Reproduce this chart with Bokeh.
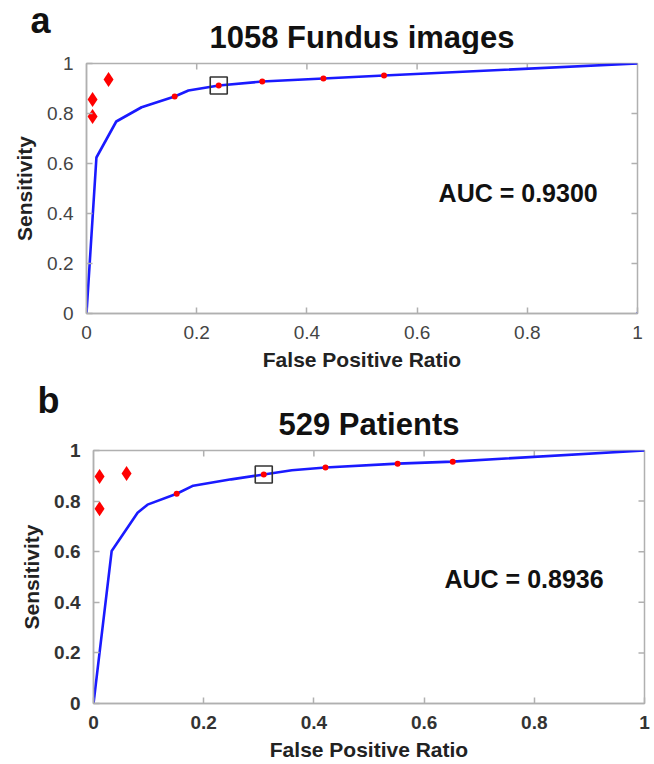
from bokeh.plotting import figure
from bokeh.models import Label, Range1d, FixedTicker
from bokeh.layouts import column
from bokeh.embed import file_html
from bokeh.resources import INLINE

FONT = "Liberation Sans"

# ---- Panel a: 1058 Fundus images ----
a_title = "1058 Fundus images"
a_curve_fpr = [0, 0.018, 0.054, 0.10, 0.16, 0.185, 0.24, 0.319, 0.43, 0.54, 1.0]
a_curve_sens = [0, 0.624, 0.768, 0.825, 0.868, 0.892, 0.912, 0.928, 0.94, 0.952, 1.0]
a_dot_fpr = [0.16, 0.24, 0.319, 0.43, 0.54]
a_dot_sens = [0.868, 0.912, 0.928, 0.94, 0.952]
a_diam_fpr = [0.011, 0.011, 0.04]
a_diam_sens = [0.856, 0.788, 0.936]
a_box_fpr = [0.24]
a_box_sens = [0.912]
a_end_fpr = [1.0]
a_end_sens = [0.0]
a_auc = "AUC = 0.9300"

# ---- Panel b: 529 Patients ----
b_title = "529 Patients"
b_curve_fpr = [0, 0.033, 0.08, 0.098, 0.151, 0.181, 0.25, 0.309, 0.36, 0.421, 0.552, 0.652, 1.0]
b_curve_sens = [0, 0.603, 0.754, 0.786, 0.829, 0.861, 0.886, 0.905, 0.922, 0.933, 0.948, 0.956, 1.0]
b_dot_fpr = [0.151, 0.309, 0.421, 0.552, 0.652]
b_dot_sens = [0.829, 0.905, 0.933, 0.948, 0.956]
b_diam_fpr = [0.011, 0.011, 0.06]
b_diam_sens = [0.897, 0.77, 0.909]
b_box_fpr = [0.309]
b_box_sens = [0.905]
b_auc = "AUC = 0.8936"

ticks = [0, 0.2, 0.4, 0.6, 0.8, 1]
tick_labels = {0: "0", 0.2: "0.2", 0.4: "0.4", 0.6: "0.6", 0.8: "0.8", 1: "1"}

AX_COLOR = "#b0b0b0"
W = 654


def style_axis(ax, label_style, label_color):
    ax.ticker = FixedTicker(ticks=ticks)
    ax.major_label_overrides = tick_labels
    ax.minor_tick_line_color = None
    ax.major_tick_in = 6
    ax.major_tick_out = 0
    ax.axis_line_color = AX_COLOR
    ax.axis_line_width = 1.5
    ax.major_tick_line_color = AX_COLOR
    ax.major_tick_line_width = 1.5
    ax.major_label_text_font = FONT
    ax.major_label_text_font_size = "19px"
    ax.major_label_text_font_style = label_style
    ax.major_label_text_color = label_color
    ax.axis_label_text_font = FONT
    ax.axis_label_text_font_size = "21px"
    ax.axis_label_text_font_style = "bold"
    ax.axis_label_text_color = "#222222"


def make_header(height, letter, letter_xy, title, title_xy):
    h = figure(width=W, height=height, output_backend="svg", toolbar_location=None,
               x_range=Range1d(0, W), y_range=Range1d(0, height),
               x_axis_type=None, y_axis_type=None, frame_align=False,
               min_border=0, min_border_left=0, min_border_right=0,
               min_border_top=0, min_border_bottom=0)
    h.grid.visible = False
    h.outline_line_color = None
    h.add_layout(Label(x=letter_xy[0], y=letter_xy[1], text=letter, text_font=FONT,
                       text_font_size="36px", text_font_style="bold",
                       text_color="#111111", text_baseline="middle"))
    h.add_layout(Label(x=title_xy[0], y=title_xy[1], text=title, text_font=FONT,
                       text_font_size="31px", text_font_style="bold",
                       text_color="#111111", text_align="center",
                       text_baseline="middle"))
    return h


def make_panel(fpr, sens, dfpr, dsens, mfpr, msens, bfpr, bsens, auc,
               height, borders, label_style, label_color, auc_pos, frame_px, extra=None):
    top, left, right, bottom = borders
    p = figure(width=W, height=height, output_backend="svg", toolbar_location=None,
               x_range=Range1d(0, 1), y_range=Range1d(0, 1), frame_align=False,
               min_border_top=top, min_border_left=left, min_border_right=right,
               min_border_bottom=bottom, x_axis_label="False Positive Ratio",
               y_axis_label="Sensitivity")
    p.grid.visible = False
    p.outline_line_color = AX_COLOR
    p.outline_line_width = 1.5
    p.background_fill_color = "white"
    p.border_fill_color = "white"
    style_axis(p.xaxis[0], label_style, label_color)
    style_axis(p.yaxis[0], label_style, label_color)
    p.xaxis[0].major_label_standoff = 12
    p.xaxis[0].axis_label_standoff = 6
    p.yaxis[0].major_label_standoff = 13
    p.yaxis[0].axis_label_standoff = 8

    # inward tick marks on the top and right edges of the box
    fw, fh = frame_px
    tx = [t for t in ticks if 0 < t < 1]
    p.segment(x0=tx, y0=[1] * len(tx), x1=tx, y1=[1 - 6 / fh] * len(tx),
              line_color=AX_COLOR, line_width=1.5)
    p.segment(x0=[1] * len(tx), y0=tx, x1=[1 - 6 / fw] * len(tx), y1=tx,
              line_color=AX_COLOR, line_width=1.5)

    p.line(fpr, sens, line_color="#1a1aff", line_width=2.6)
    p.scatter(dfpr, dsens, marker="circle", size=6, fill_color="red", line_color=None)
    p.scatter(mfpr, msens, marker="diamond", size=15, fill_color="red", line_color=None)
    p.scatter(bfpr, bsens, marker="square", size=17, fill_color=None,
              line_color="#333333", line_width=1.6)
    if extra is not None:
        p.scatter(extra[0], extra[1], marker="circle", size=3, fill_color="#1a1aff",
                  line_color=None)

    p.add_layout(Label(x=auc_pos[0], y=auc_pos[1], text=auc, text_font=FONT,
                       text_font_size="25px", text_font_style="bold",
                       text_color="#111111", text_align="left",
                       text_baseline="middle"))
    return p


ha = make_header(54, "a", (30, 34), a_title, (361.5, 17.3))
pa = make_panel(a_curve_fpr, a_curve_sens, a_dot_fpr, a_dot_sens,
                a_diam_fpr, a_diam_sens, a_box_fpr, a_box_sens, a_auc,
                height=326, borders=(9, 86, 17, 67), label_style="normal",
                label_color="#444444", auc_pos=(0.639, 0.484), frame_px=(551, 250),
                extra=(a_end_fpr, a_end_sens))
hb = make_header(61, "b", (37, 41), b_title, (368.5, 17.5))
pb = make_panel(b_curve_fpr, b_curve_sens, b_dot_fpr, b_dot_sens,
                b_diam_fpr, b_diam_sens, b_box_fpr, b_box_sens, b_auc,
                height=323, borders=(9, 93, 10, 61), label_style="bold",
                label_color="#333333", auc_pos=(0.637, 0.492), frame_px=(551, 252))

layout = column(ha, pa, hb, pb, spacing=0)
open("out.html", "w").write(file_html(layout, INLINE))
